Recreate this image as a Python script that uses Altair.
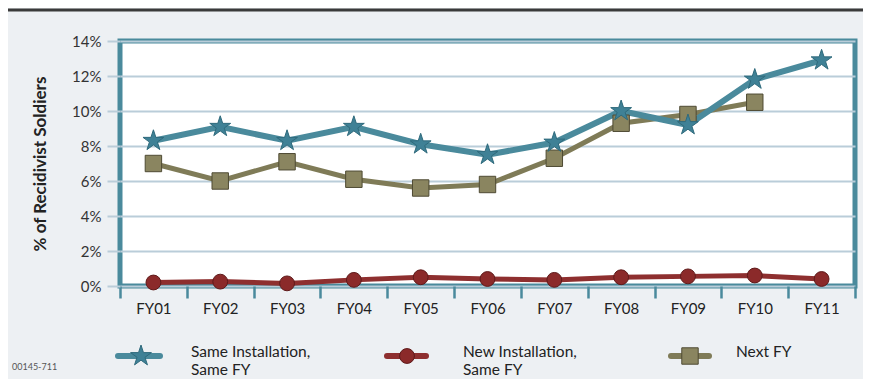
import altair as alt
import pandas as pd

years = ["FY01", "FY02", "FY03", "FY04", "FY05", "FY06", "FY07", "FY08", "FY09", "FY10", "FY11"]
same_inst = [8.3, 9.1, 8.3, 9.1, 8.1, 7.5, 8.2, 10.0, 9.2, 11.8, 12.9]
new_inst = [0.2, 0.25, 0.15, 0.35, 0.5, 0.4, 0.35, 0.5, 0.55, 0.6, 0.4]
next_fy = [7.0, 6.0, 7.1, 6.1, 5.6, 5.8, 7.3, 9.3, 9.8, 10.5]

y_ticks = [0, 2, 4, 6, 8, 10, 12, 14]
series_names = ["Same Installation,\nSame FY", "New Installation,\nSame FY", "Next FY"]

FONT = "Lato"
BG = "#EDF0F3"
TEAL = "#4A8A9C"
RED = "#8E2F2F"
OLIVE = "#7F7B57"
GRID = "#BACDD9"
STAR = ("M0,-1L0.2245,-0.309L0.951,-0.309L0.363,0.118L0.588,0.809L0,0.382"
        "L-0.588,0.809L-0.363,0.118L-0.951,-0.309L-0.2245,-0.309Z")

def frame(vals, yrs):
    return pd.DataFrame({"fy": yrs[:len(vals)], "v": vals})

df_same = frame(same_inst, years)
df_new = frame(new_inst, years)
df_next = frame(next_fy, years)

x_enc = alt.X("fy:N", sort=years,
              scale=alt.Scale(domain=years, paddingInner=0, paddingOuter=0),
              axis=alt.Axis(title=None, labelAngle=0, domain=False, ticks=True,
                            tickBand="extent", tickColor=TEAL, tickWidth=2.5,
                            tickSize=12, labelPadding=3, labelFont=FONT,
                            labelFontSize=15, labelColor="#222222", grid=False))
y_enc = alt.Y("v:Q", scale=alt.Scale(domain=[0, 14], nice=False),
              axis=alt.Axis(values=y_ticks, labelExpr="datum.value + '%'",
                            title="% of  Recidivist Soldiers", titleFont=FONT,
                            titleFontSize=17, titleFontWeight="bold",
                            titleColor="#222222", titlePadding=22,
                            domain=False, tickColor=GRID, tickWidth=2,
                            tickSize=13, labelPadding=6, labelFont=FONT,
                            labelFontSize=15, labelColor="#333333",
                            grid=True, gridColor=GRID, gridWidth=2))

def line(df, color, w):
    return alt.Chart(df).mark_line(color=color, strokeWidth=w).encode(x=x_enc, y=y_enc)

def pts(df, shape, fill, stroke, size):
    return alt.Chart(df).mark_point(shape=shape, filled=True, fill=fill, stroke=stroke,
                                    strokeWidth=1, size=size, opacity=1).encode(x=x_enc, y=y_enc)

layers = [
    line(df_next, OLIVE, 5),
    line(df_same, TEAL, 6),
    line(df_new, RED, 5),
    pts(df_next, "square", "#8A8560", "#4E4A33", 270),
    pts(df_same, STAR, "#3F8196", "#2F6A7C", 480),
    pts(df_new, "circle", "#8B2A2A", "#5E1A1A", 220),
]

# top dark rule
layers.append(alt.Chart(pd.DataFrame({"a": [0]})).mark_rule(color="#3A3A3A", strokeWidth=3).encode(
    x=alt.value(-112), x2=alt.value(743), y=alt.value(-31)))

# custom legend
leg = [
    (series_names[0], TEAL, "#3F8196", "#2F6A7C", STAR, 480, -2, 40, 21, 71),
    (series_names[1], RED, "#8B2A2A", "#5E1A1A", "circle", 220, 267, 306, 287, 343),
    (series_names[2], OLIVE, "#8A8560", "#4E4A33", "square", 270, 551, 589, 570, 616),
]
one = pd.DataFrame({"a": [0]})
for (lab, lc, fc, sc, shp, sz, x0, x1, xm, xt) in leg:
    layers.append(alt.Chart(one).mark_rule(color=lc, strokeWidth=6, strokeCap="round").encode(
        x=alt.value(x0), x2=alt.value(x1), y=alt.value(315)))
    layers.append(alt.Chart(one).mark_point(shape=shp, filled=True, fill=fc, stroke=sc,
                                            strokeWidth=1, size=sz, opacity=1).encode(
        x=alt.value(xm), y=alt.value(315)))
    layers.append(alt.Chart(pd.DataFrame({"t": [lab]})).mark_text(
        align="left", baseline="middle", font=FONT, fontSize=15.5, color="#222222",
        lineBreak="\n", lineHeight=18).encode(
        x=alt.value(xt), y=alt.value(311), text="t:N"))

layers.append(alt.Chart(pd.DataFrame({"t": ["00145-711"]})).mark_text(
    align="left", baseline="middle", font=FONT, fontSize=9, color="#555555").encode(
    x=alt.value(-108), y=alt.value(326), text="t:N"))

chart = alt.layer(*layers).properties(
    width=735, height=245,
    autosize=alt.AutoSizeParams(type="none"),
    padding={"left": 112, "top": 33, "right": 8, "bottom": 93},
    background=BG,
).configure_view(fill="white", stroke=TEAL, strokeWidth=5)

chart.save("out.html", embed_options={"renderer": "svg", "actions": False})
